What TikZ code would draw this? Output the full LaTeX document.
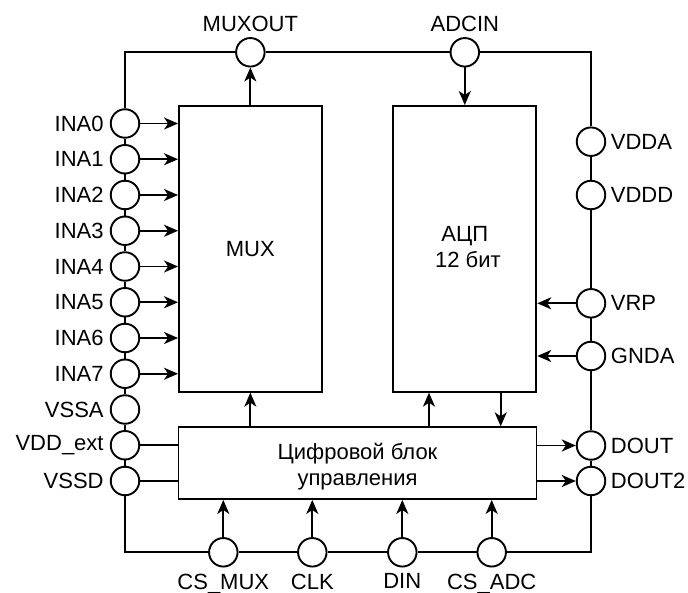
\documentclass[tikz,border=0pt]{standalone}
\usepackage{fontspec}
\setmainfont{Liberation Sans}
\usetikzlibrary{arrows.meta}
\begin{document}
\begin{tikzpicture}[x=1pt,y=-1pt,
  every node/.style={font=\fontsize{22pt}{26pt}\selectfont},
  pin/.style={circle,draw,line width=1.9pt,fill=white,minimum size=28.5pt,inner sep=0pt},
  blk/.style={draw,line width=1.9pt,fill=white,inner sep=0pt},
  txt/.style={inner sep=0pt,align=center},
  wire/.style={line width=1.8pt},
  arr/.style={line width=1.8pt,-{Stealth[length=14pt,width=12pt,inset=4pt]}},
  lab/.style={inner sep=0pt},
  lL/.style={label={[lab,label distance=6pt]left:#1}},
  lR/.style={label={[lab,label distance=4.5pt]right:#1}},
  lT/.style={label={[lab,label distance=5.5pt]above:#1}},
  lB/.style={label={[lab,label distance=6pt]below:#1}}]
\useasboundingbox (0,0) rectangle (688,593);

% blocks
\node[blk,minimum width=142.7pt,minimum height=285.7pt] (mux) at (250.35,248.85) {};
\node[txt] (muxt) at (mux) {MUX};
\node[blk,minimum width=143pt,minimum height=285.7pt] (adc) at (464.8,248.85) {};
\node[txt,yshift=2pt] (adct) at (adc) {\baselineskip=24.5pt АЦП\\\ 12 бит};
\node[blk,minimum width=358pt,minimum height=71.7pt] (dig) at (357.5,463.15) {};
\node[txt,yshift=-3.5pt] (digt) at (dig) {\baselineskip=28.4pt Цифровой блок\\управления};

% top pins
\node[pin,lT=MUXOUT] (muxout) at (250.35,52.3) {};
\node[pin,lT=ADCIN] (adcin) at (464.8,52.3) {};

% left pins
\node[pin,lL=INA0] (ina0) at (125,123.5) {};
\node[pin,lL=INA1] (ina1) at (125,159.25) {};
\node[pin,lL=INA2] (ina2) at (125,195) {};
\node[pin,lL=INA3] (ina3) at (125,230.75) {};
\node[pin,lL=INA4] (ina4) at (125,266.5) {};
\node[pin,lL=INA5] (ina5) at (125,302.25) {};
\node[pin,lL=INA6] (ina6) at (125,338) {};
\node[pin,lL=INA7] (ina7) at (125,373.75) {};
\node[pin,lL=VSSA] (vssa) at (125,409.5) {};
\node[pin,lL=VDD\_ext] (vddext) at (125,445.25) {};
\node[pin,lL=VSSD] (vssd) at (125,481) {};

% right pins
\node[pin,lR=VDDA] (vdda) at (591,141.7) {};
\node[pin,lR=VDDD] (vddd) at (591,195) {};
\node[pin,lR=VRP] (vrp) at (591,303.3) {};
\node[pin,lR=GNDA] (gnda) at (591,356) {};
\node[pin,lR=DOUT] (dout) at (591,445.5) {};
\node[pin,lR=DOUT2] (dout2) at (591,481) {};

% bottom pins
\node[pin,lB=CS\_MUX] (csmux) at (223.3,552.3) {};
\node[pin,lB=CLK] (clk) at (312.3,552.3) {};
\node[pin,lB=DIN] (din) at (402.3,552.3) {};
\node[pin,lB=CS\_ADC] (csadc) at (491.7,552.3) {};

% frame wires
\draw[wire] (muxout.west) -| (ina0.north);
\draw[wire] (muxout.east) -- (adcin.west);
\draw[wire] (adcin.east) -| (vdda.north);
\foreach \a/\b in {ina0/ina1,ina1/ina2,ina2/ina3,ina3/ina4,ina4/ina5,ina5/ina6,ina6/ina7,ina7/vssa,vssa/vddext,vddext/vssd,
  vdda/vddd,vddd/vrp,vrp/gnda,gnda/dout,dout/dout2}
  \draw[wire] (\a.south) -- (\b.north);
\draw[wire] (vssd.south) |- (csmux.west);
\draw[wire] (csmux.east) -- (clk.west);
\draw[wire] (clk.east) -- (din.west);
\draw[wire] (din.east) -- (csadc.west);
\draw[wire] (csadc.east) -| (dout2.south);

% signal arrows
\foreach \p in {ina0,ina1,ina2,ina3,ina4,ina5,ina6,ina7}
  \draw[arr] (\p.east) -- (\p -| mux.west);
\draw[wire] (vddext.east) -- (vddext -| dig.west);
\draw[wire] (vssd.east) -- (vssd -| dig.west);
\draw[arr] (mux.north) -- (muxout.south);
\draw[arr] (adcin.south) -- (adc.north);
\draw[arr] (vrp.west) -- (vrp -| adc.east);
\draw[arr] (gnda.west) -- (gnda -| adc.east);
\draw[arr] (dout -| dig.east) -- (dout.west);
\draw[arr] (dout2 -| dig.east) -- (dout2.west);
\draw[arr] (dig.north -| mux.south) -- (mux.south);
\coordinate (u) at (429,0);
\coordinate (d) at (500.7,0);
\draw[arr] (u |- dig.north) -- (u |- adc.south);
\draw[arr] (d |- adc.south) -- (d |- dig.north);
\foreach \p in {csmux,clk,din,csadc}
  \draw[arr] (\p.north) -- (\p |- dig.south);
\end{tikzpicture}
\end{document}
